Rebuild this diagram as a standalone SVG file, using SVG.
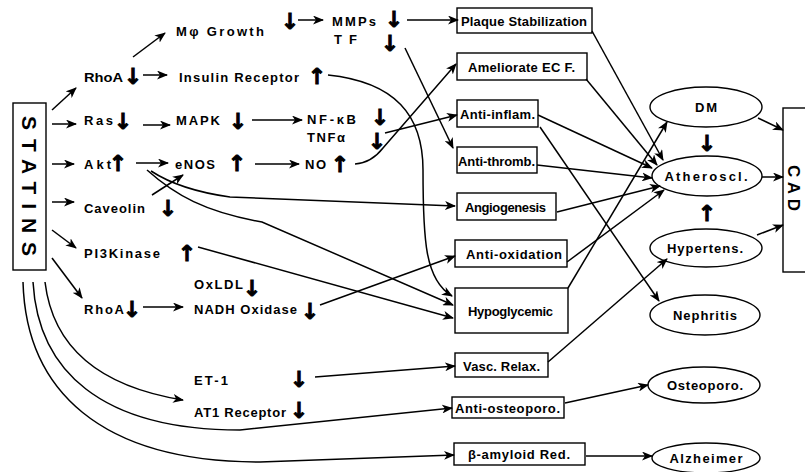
<svg xmlns="http://www.w3.org/2000/svg" width="805" height="472" viewBox="0 0 805 472">
<style>
.t{font-family:"Liberation Sans",Arial,sans-serif;font-weight:bold;font-size:13px;fill:#000}
.big{font-family:"Liberation Sans",Arial,sans-serif;font-weight:bold;font-size:21px;fill:#000}
.cad{font-family:"Liberation Sans",Arial,sans-serif;font-weight:bold;font-size:17px;fill:#000}
.ar{font-family:"DejaVu Sans",sans-serif;font-weight:bold;font-size:22px;fill:#000;stroke:#000;stroke-width:0.9;text-anchor:middle}
.box{fill:#fff;stroke:#000;stroke-width:1.4}
.c{fill:none;stroke:#000;stroke-width:1.5;marker-end:url(#ah)}
</style>
<defs>
<marker id="ah" markerUnits="userSpaceOnUse" markerWidth="11" markerHeight="9" refX="10" refY="4.5" orient="auto">
<path d="M0,0 L11,4.5 L0,9 L3,4.5 z" fill="#000"/>
</marker>
</defs>
<rect width="805" height="472" fill="#fff"/>

<g id="statins"><rect class="box" x="13" y="103" width="33" height="167"/>
<text class="big" transform="translate(29,186) rotate(90)" text-anchor="middle" dominant-baseline="central" textLength="140" lengthAdjust="spacing">STATINS</text></g>
<g id="cad"><rect class="box" x="783" y="108" width="30" height="164"/>
<text class="cad" transform="translate(793,188) rotate(90)" text-anchor="middle" dominant-baseline="central" textLength="46" lengthAdjust="spacing">CAD</text></g>

<g id="rhoa1"><text class="t" x="84" y="82" textLength="39" lengthAdjust="spacingAndGlyphs">RhoA</text><text class="ar" x="133" y="84">↓</text></g>
<g id="mgrowth"><text class="t" x="176" y="36" textLength="88" lengthAdjust="spacing">Mφ Growth</text><text class="ar" x="290" y="29">↓</text></g>
<g id="mmps"><text class="t" x="332" y="26" textLength="44" lengthAdjust="spacing">MMPs</text><text class="ar" x="394" y="27">↓</text></g>
<g id="tf"><text class="t" x="334" y="44" textLength="23" lengthAdjust="spacing">TF</text><text class="ar" x="390" y="51">↓</text></g>
<g id="insulin"><text class="t" x="179" y="82" textLength="120" lengthAdjust="spacing">Insulin Receptor</text><text class="ar" x="317" y="84">↑</text></g>
<g id="ras"><text class="t" x="84" y="125" textLength="29" lengthAdjust="spacing">Ras</text><text class="ar" x="123" y="129">↓</text></g>
<g id="mapk"><text class="t" x="176" y="125" textLength="44" lengthAdjust="spacing">MAPK</text><text class="ar" x="238" y="129">↓</text></g>
<g id="nfkb"><text class="t" x="307" y="124" textLength="49" lengthAdjust="spacing">NF-κB</text><text class="ar" x="380" y="125">↓</text></g>
<g id="tnfa"><text class="t" x="307" y="142" textLength="38" lengthAdjust="spacing">TNFα</text><text class="ar" x="377" y="149">↓</text></g>
<g id="akt"><text class="t" x="84" y="169" textLength="27" lengthAdjust="spacing">Akt</text><text class="ar" x="118" y="171">↑</text></g>
<g id="enos"><text class="t" x="175" y="169" textLength="40" lengthAdjust="spacing">eNOS</text><text class="ar" x="237" y="171">↑</text></g>
<g id="no"><text class="t" x="305" y="169" textLength="21" lengthAdjust="spacing">NO</text><text class="ar" x="340" y="172">↑</text></g>
<g id="caveolin"><text class="t" x="84" y="213" textLength="61" lengthAdjust="spacing">Caveolin</text><text class="ar" x="168" y="216">↓</text></g>
<g id="pi3k"><text class="t" x="84" y="258" textLength="76" lengthAdjust="spacing">PI3Kinase</text><text class="ar" x="187" y="261">↑</text></g>
<g id="oxldl"><text class="t" x="194" y="289" textLength="49" lengthAdjust="spacing">OxLDL</text><text class="ar" x="252" y="296">↓</text></g>
<g id="rhoa2"><text class="t" x="84" y="314" textLength="40" lengthAdjust="spacing">RhoA</text><text class="ar" x="132" y="317">↓</text></g>
<g id="nadh"><text class="t" x="194" y="314" textLength="103" lengthAdjust="spacing">NADH Oxidase</text><text class="ar" x="310" y="319">↓</text></g>
<g id="et1"><text class="t" x="194" y="385" textLength="34" lengthAdjust="spacing">ET-1</text><text class="ar" x="299" y="387">↓</text></g>
<g id="at1"><text class="t" x="194" y="417" textLength="92" lengthAdjust="spacing">AT1 Receptor</text><text class="ar" x="299" y="418">↓</text></g>

<g id="plaque"><rect class="box" x="457" y="8" width="135" height="25"/><text class="t" x="461" y="26" textLength="126" lengthAdjust="spacing">Plaque Stabilization</text></g>
<g id="ameliorate"><rect class="box" x="457" y="53" width="130" height="27"/><text class="t" x="468" y="72" textLength="107" lengthAdjust="spacing">Ameliorate EC F.</text></g>
<g id="antiinflam"><rect class="box" x="457" y="100" width="81" height="27"/><text class="t" x="460" y="119" textLength="75" lengthAdjust="spacing">Anti-inflam.</text></g>
<g id="antithromb"><rect class="box" x="457" y="147" width="80" height="26"/><text class="t" x="458" y="166" textLength="77" lengthAdjust="spacing">Anti-thromb.</text></g>
<g id="angiogenesis"><rect class="box" x="457" y="193" width="99" height="27"/><text class="t" x="465" y="212" textLength="81" lengthAdjust="spacing">Angiogenesis</text></g>
<g id="antioxidation"><rect class="box" x="455" y="240" width="112" height="27"/><text class="t" x="466" y="259" textLength="96" lengthAdjust="spacing">Anti-oxidation</text></g>
<g id="hypoglycemic"><rect class="box" x="455" y="288" width="113" height="45"/><text class="t" x="468" y="316" textLength="85" lengthAdjust="spacing">Hypoglycemic</text></g>
<g id="vascrelax"><rect class="box" x="455" y="353" width="93" height="24"/><text class="t" x="463" y="371" textLength="77" lengthAdjust="spacing">Vasc. Relax.</text></g>
<g id="antiosteo"><rect class="box" x="452" y="397" width="112" height="21"/><text class="t" x="455" y="413" textLength="105" lengthAdjust="spacing">Anti-osteoporo.</text></g>
<g id="amyloid"><rect class="box" x="454" y="443" width="131" height="22"/><text class="t" x="468" y="459" textLength="102" lengthAdjust="spacing">β-amyloid Red.</text></g>

<g id="dm"><ellipse class="box" cx="706" cy="107" rx="56" ry="20"/><text class="t" x="706" y="112" text-anchor="middle" textLength="22" lengthAdjust="spacing">DM</text></g>
<g id="atheroscl"><ellipse class="box" cx="707" cy="176" rx="55" ry="20"/><text class="t" x="706" y="181" text-anchor="middle" textLength="83" lengthAdjust="spacing">Atheroscl.</text></g>
<g id="hypertens"><ellipse class="box" cx="706" cy="248" rx="56" ry="19"/><text class="t" x="705" y="253" text-anchor="middle" textLength="76" lengthAdjust="spacing">Hypertens.</text></g>
<g id="nephritis"><ellipse class="box" cx="705" cy="315" rx="55" ry="20"/><text class="t" x="705" y="320" text-anchor="middle" textLength="64" lengthAdjust="spacing">Nephritis</text></g>
<g id="osteoporo"><ellipse class="box" cx="704" cy="385" rx="56" ry="18"/><text class="t" x="705" y="390" text-anchor="middle" textLength="76" lengthAdjust="spacing">Osteoporo.</text></g>
<g id="alzheimer"><ellipse class="box" cx="706" cy="458" rx="54" ry="15"/><text class="t" x="706" y="463" text-anchor="middle" textLength="73" lengthAdjust="spacing">Alzheimer</text></g>

<g id="connectors">
<path class="c" d="M52,110 L76,88"/>
<path class="c" d="M52,124 L76,124"/>
<path class="c" d="M52,164 L74,164"/>
<path class="c" d="M52,202 L74,202"/>
<path class="c" d="M52,230 L76,248"/>
<path class="c" d="M52,258 L82,298"/>
<path class="c" d="M133,57 L165,33"/>
<path class="c" d="M298,20 L323,20"/>
<path class="c" d="M143,75 L167,75"/>
<path class="c" d="M143,125 L170,125"/>
<path class="c" d="M252,120 L302,120"/>
<path class="c" d="M136,163 L168,163"/>
<path class="c" d="M255,164 L299,164"/>
<path class="c" d="M143,307 L183,307"/>
<path class="c" d="M152,195 L183,175"/>
<path class="c" d="M407,20 L458,20"/>
<path class="c" d="M405,48 L453,148"/>
<path class="c" d="M385,133 L457,115"/>
<path class="c" d="M355,164 C368,163 376,157 383,148 L456,64"/>
<path class="c" d="M328,75 C395,82 423,115 423,170 C423,240 425,280 452,296"/>
<path class="c" d="M151,171 Q180,190 230,197 L455,206"/>
<path class="c" d="M147,170 C175,195 205,212 262,222 L453,305"/>
<path class="c" d="M198,247 L453,318"/>
<path class="c" d="M320,305 L455,256"/>
<path class="c" d="M315,377 L455,366"/>
<path class="c" d="M45,282 C52,340 90,385 183,400"/>
<path class="c" d="M33,282 C38,370 100,430 240,430 L452,408"/>
<path class="c" d="M23,282 C26,390 100,462 260,462 L454,455"/>
<path class="c" d="M592,31 L663,160"/>
<path class="c" d="M586,79 L657,165"/>
<path class="c" d="M538,115 L652,168"/>
<path class="c" d="M540,127 L659,301"/>
<path class="c" d="M537,165 L652,178"/>
<path class="c" d="M557,212 L660,186"/>
<path class="c" d="M567,262 L664,190"/>
<path class="c" d="M568,288 L667,122"/>
<path class="c" d="M548,362 L667,259"/>
<path class="c" d="M565,403 L648,385"/>
<path class="c" d="M586,456 L652,456"/>
<path class="c" d="M758,118 L783,130"/>
<path class="c" d="M762,177 L783,177"/>
<path class="c" d="M757,235 L783,225"/>
<text class="ar" x="707" y="151">↓</text>
<text class="ar" x="707" y="221">↑</text>
</g>
</svg>
